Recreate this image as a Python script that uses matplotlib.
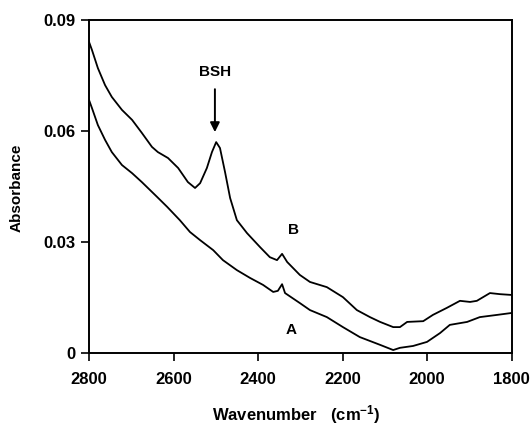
import matplotlib
matplotlib.use("Agg")
import matplotlib.pyplot as plt

plt.rcParams['font.family'] = ['Liberation Sans', 'DejaVu Sans']
plt.rcParams['mathtext.fontset'] = 'custom'
plt.rcParams['mathtext.rm'] = 'Liberation Sans:bold'
plt.rcParams['mathtext.bf'] = 'Liberation Sans:bold'
plt.rcParams['mathtext.it'] = 'Liberation Sans:bold'

# Spectrum B (upper curve)
wn_b = [2800, 2793, 2779, 2762, 2746, 2722, 2698, 2675, 2651, 2637, 2613, 2589,
        2566, 2549, 2537, 2521, 2509, 2499, 2490, 2478, 2466, 2450, 2426, 2395,
        2372, 2355, 2343, 2331, 2301, 2277, 2237, 2199, 2166, 2135, 2111, 2080,
        2064, 2047, 2009, 1986, 1953, 1922, 1898, 1882, 1851, 1827, 1801]
abs_b = [0.0841, 0.0819, 0.0770, 0.0724, 0.0692, 0.0657, 0.0630, 0.0595, 0.0557,
         0.0543, 0.0527, 0.0500, 0.0462, 0.0446, 0.0459, 0.0500, 0.0543, 0.0570,
         0.0554, 0.0489, 0.0419, 0.0359, 0.0324, 0.0286, 0.0259, 0.0251, 0.0268,
         0.0246, 0.0211, 0.0192, 0.0178, 0.0151, 0.0116, 0.0097, 0.0084, 0.0070,
         0.0070, 0.0084, 0.0086, 0.0103, 0.0122, 0.0141, 0.0138, 0.0141, 0.0162,
         0.0159, 0.0157]

# Spectrum A (lower curve)
wn_a = [2800, 2793, 2779, 2762, 2746, 2722, 2698, 2675, 2639, 2615, 2585, 2561,
        2537, 2506, 2483, 2450, 2419, 2388, 2364, 2353, 2343, 2336, 2301, 2277,
        2237, 2199, 2159, 2111, 2080, 2064, 2033, 2000, 1969, 1946, 1905, 1875,
        1834, 1801]
abs_a = [0.0684, 0.0662, 0.0616, 0.0576, 0.0543, 0.0508, 0.0486, 0.0462, 0.0422,
         0.0395, 0.0359, 0.0327, 0.0305, 0.0278, 0.0251, 0.0224, 0.0203, 0.0184,
         0.0165, 0.0168, 0.0186, 0.0162, 0.0135, 0.0116, 0.0097, 0.0070, 0.0043,
         0.0022, 0.0008, 0.0014, 0.0019, 0.0030, 0.0054, 0.0076, 0.0084, 0.0097,
         0.0103, 0.0108]

x_ticks = [2800, 2600, 2400, 2200, 2000, 1800]
x_tick_labels = ["2800", "2600", "2400", "2200", "2000", "1800"]
y_ticks = [0, 0.03, 0.06, 0.09]
y_tick_labels = ["0", "0.03", "0.06", "0.09"]

fig = plt.figure(figsize=(5.31, 4.25), dpi=100)
ax = fig.add_axes([89/531, 1-353/425, (511.5-89)/531, (353-20)/425])

ax.plot(wn_b, abs_b, color='black', lw=1.3, solid_joinstyle='round')
ax.plot(wn_a, abs_a, color='black', lw=1.3, solid_joinstyle='round')

ax.set_xlim(2800, 1800)
ax.set_ylim(0, 0.09)
ax.set_xticks(x_ticks)
ax.set_xticklabels(x_tick_labels, fontweight='bold', fontsize=12)
ax.set_yticks(y_ticks)
ax.set_yticklabels(y_tick_labels, fontweight='bold', fontsize=12)
ax.tick_params(axis='both', direction='out', length=6, width=1.2, colors='black')
ax.tick_params(axis='x', pad=7.5)
ax.tick_params(axis='y', pad=3.5)
for s in ax.spines.values():
    s.set_linewidth(1.4)

ax.annotate("", xy=(2502, 0.0597), xytext=(2502, 0.0713),
            arrowprops=dict(arrowstyle='-|>', color='black', lw=1.4,
                            mutation_scale=14, shrinkA=0, shrinkB=0))
ax.text(2502, 0.0760, "BSH", ha='center', va='center', fontweight='bold', fontsize=11)
ax.text(2317, 0.0332, "B", ha='center', va='center', fontweight='bold', fontsize=11)
ax.text(2322, 0.0062, "A", ha='center', va='center', fontweight='bold', fontsize=11)

fig.text(17/531, 1-188/425, "Absorbance", rotation=90, ha='center', va='center',
         fontweight='bold', fontsize=11)
fig.text(296/531, 1-415/425, r"Wavenumber   (cm$^{-1}$)", ha='center', va='center',
         fontweight='bold', fontsize=12)

fig.savefig("out.png", dpi=100)
